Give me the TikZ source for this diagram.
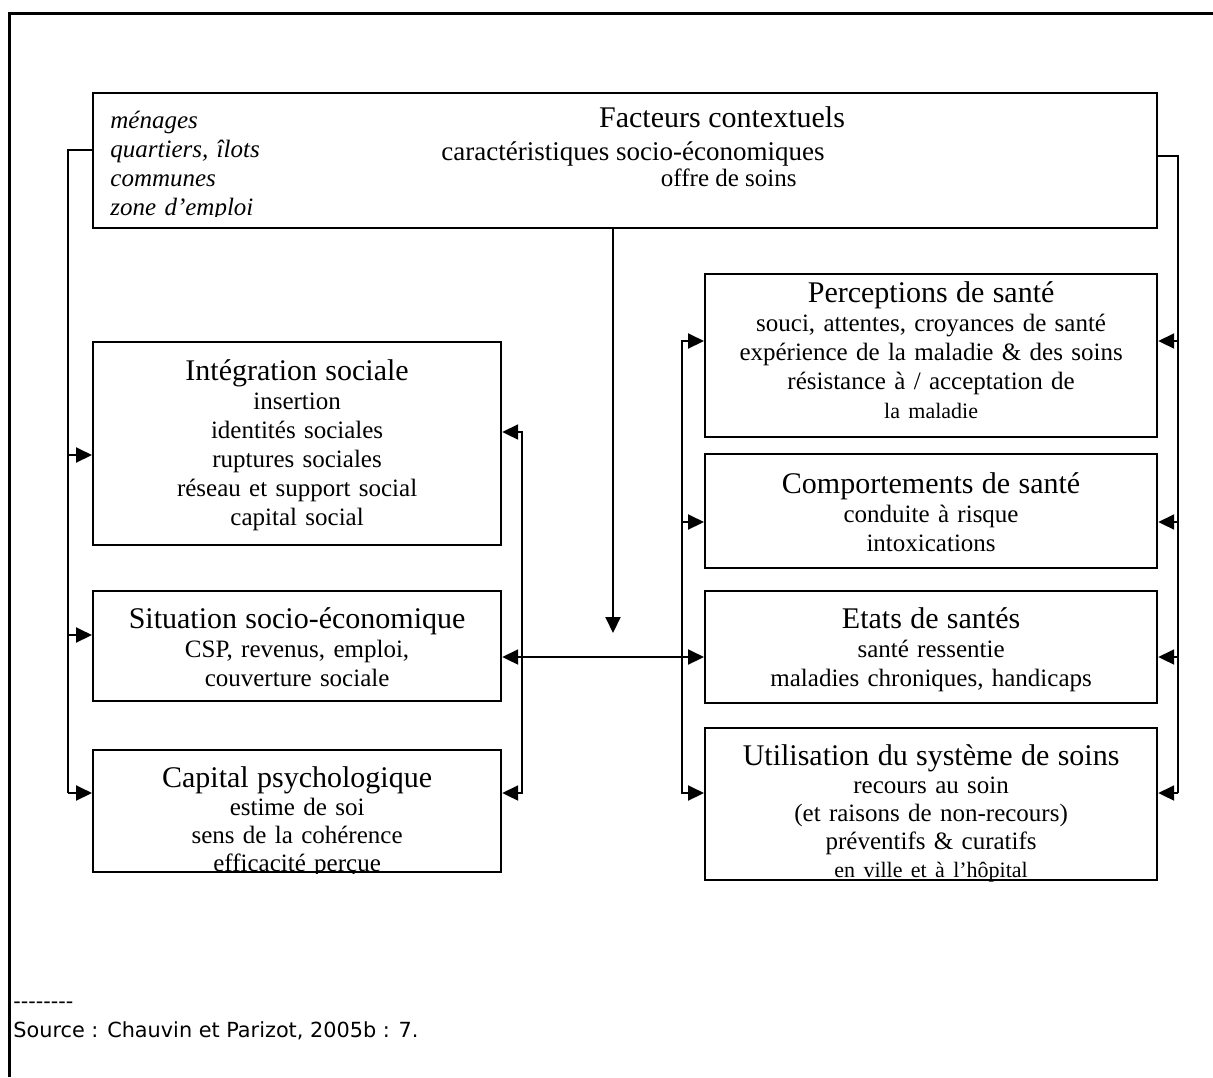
\documentclass[tikz,border=0pt]{standalone}
\usepackage{fontspec}
\setmainfont{Liberation Serif}
\newfontfamily\srcfont{DejaVu Sans}
\usetikzlibrary{arrows.meta, positioning}

\tikzset{
  box/.style={draw, line width=1.1pt, inner sep=0pt, anchor=north west},
  boxtext/.style={anchor=base, align=center, inner sep=0pt, font=\fontsize{12.5}{14.5}\selectfont},
  titletext/.style={anchor=base, inner sep=0pt, font=\fontsize{15}{14.5}\selectfont},
  subtext/.style={anchor=base, inner sep=0pt, font=\fontsize{12.5}{14.5}\selectfont},
  listtext/.style={anchor=base west, align=left, inner sep=0pt, text width=140pt, font=\fontsize{12.5}{14.5}\selectfont\itshape},
  srctext/.style={anchor=base west, inner sep=0pt, font=\srcfont\fontsize{10.4}{13}\selectfont},
  link/.style={line width=1pt},
  tip/.style={-{Triangle[length=8pt,width=7.5pt]}},
  tips/.style={{Triangle[length=8pt,width=7.5pt]}-{Triangle[length=8pt,width=7.5pt]}},
}
\newcommand{\boxtitle}[1]{{\fontsize{15}{14.5}\selectfont #1}}
\newcommand{\boxsmall}[1]{{\fontsize{11}{14.5}\selectfont #1}}

\begin{document}
\begin{tikzpicture}[x=0.5pt, y=-0.5pt]
  \useasboundingbox (0,0) rectangle (1213,1077);

  % Frame
  \draw[line width=1.5pt] (9,1077) -- (9,13) -- (1213,13);

  % Boxes
  \node[box, minimum width=532pt, minimum height=67.5pt] (ctx) at (92,92) {};
  \node[box, minimum width=204pt, minimum height=101.5pt] (integ) at (92,341) {};
  \node[box, minimum width=204pt, minimum height=55pt] (situ) at (92,590) {};
  \node[box, minimum width=204pt, minimum height=61pt] (psych) at (92,749) {};
  \node[box, minimum width=226pt, minimum height=81.5pt] (percep) at (704,273) {};
  \node[box, minimum width=226pt, minimum height=57pt] (comport) at (704,453) {};
  \node[box, minimum width=226pt, minimum height=56pt] (etats) at (704,590) {};
  \node[box, minimum width=226pt, minimum height=76pt] (util) at (704,727) {};

  % Contextual factors
  \node[titletext] (ctx-title) at (722,127) {Facteurs contextuels};
  \node[subtext, font=\fontsize{13.5}{14.5}\selectfont] (ctx-soc) at (633,160) {caractéristiques socio-économiques};
  \node[subtext, anchor=base east] (ctx-offre) at (797,186) {offre de soins};
  \begin{scope}
    \clip (ctx.north west) rectangle ([yshift=6.5pt]ctx.south east);
    \node[listtext] (ctx-list) at (110,128) {ménages\\quartiers, îlots\\communes\\zone d’emploi};
  \end{scope}

  % Left column
  \node[boxtext, text width=200pt] (integ-txt) at ([yshift=-19.5pt]integ.north)
    {\boxtitle{Intégration sociale}\\insertion\\identités sociales\\ruptures sociales\\réseau et support social\\capital social};
  \node[boxtext, text width=200pt] (situ-txt) at ([yshift=-19pt]situ.north)
    {\boxtitle{Situation socio-économique}\\CSP, revenus, emploi,\\couverture sociale};
  \begin{scope}
    \clip (psych.north west) rectangle (psych.south east);
    \node[boxtext, text width=200pt, font=\fontsize{12.5}{14}\selectfont] (psych-txt) at ([yshift=-19pt]psych.north)
      {\boxtitle{Capital psychologique}\\estime de soi\\sens de la cohérence\\efficacité perçue};
  \end{scope}

  % Right column
  \node[boxtext, text width=222pt] (percep-txt) at ([yshift=-14.5pt]percep.north)
    {\boxtitle{Perceptions de santé}\\souci, attentes, croyances de santé\\expérience de la maladie \& des soins\\résistance à / acceptation de\\\boxsmall{la maladie}};
  \node[boxtext, text width=222pt] (comport-txt) at ([yshift=-20pt]comport.north)
    {\boxtitle{Comportements de santé}\\conduite à risque\\intoxications};
  \node[boxtext, text width=222pt] (etats-txt) at ([yshift=-19pt]etats.north)
    {\boxtitle{Etats de santés}\\santé ressentie\\maladies chroniques, handicaps};
  \begin{scope}
    \clip (util.north west) rectangle (util.south east);
    \node[boxtext, text width=222pt, font=\fontsize{12.5}{14}\selectfont] (util-txt) at ([yshift=-19pt]util.north)
      {\boxtitle{Utilisation du système de soins}\\recours au soin\\(et raisons de non-recours)\\préventifs \& curatifs\\\boxsmall{en ville et à l’hôpital}};
  \end{scope}

  % Bus points
  \coordinate (lb0) at (68,150);
  \coordinate (lb1) at (68,455);
  \coordinate (lb2) at (68,635);
  \coordinate (lb3) at (68,793);
  \coordinate (rb0) at (1178,156);
  \coordinate (rb1) at (1178,341);
  \coordinate (rb2) at (1178,522);
  \coordinate (rb3) at (1178,657);
  \coordinate (rb4) at (1178,793);
  \coordinate (lc1) at (522,432);
  \coordinate (lc3) at (522,793);
  \coordinate (rc1) at (682,341);
  \coordinate (rc2) at (682,522);
  \coordinate (rc4) at (682,793);
  \coordinate (hz) at (600,657);
  \coordinate (dn) at (613,633);

  % Left outer bus
  \draw[link] (lb0 -| ctx.west) -- (lb0) -- (lb3);
  \draw[link, tip] (lb1) -- (lb1 -| integ.west);
  \draw[link, tip] (lb2) -- (lb2 -| situ.west);
  \draw[link, tip] (lb3) -- (lb3 -| psych.west);

  % Right outer bus
  \draw[link] (rb0 -| ctx.east) -- (rb0) -- (rb4);
  \draw[link, tip] (rb1) -- (rb1 -| percep.east);
  \draw[link, tip] (rb2) -- (rb2 -| comport.east);
  \draw[link, tip] (rb3) -- (rb3 -| etats.east);
  \draw[link, tip] (rb4) -- (rb4 -| util.east);

  % Inner buses
  \draw[link, tips] (lc1 -| integ.east) -- (lc1) -- (lc3) -- (lc3 -| psych.east);
  \draw[link, tips] (rc1 -| percep.west) -- (rc1) -- (rc4) -- (rc4 -| util.west);
  \draw[link, tip] (rc2) -- (rc2 -| comport.west);

  % Central links
  \draw[link, tip] (dn |- ctx.south) -- (dn);
  \draw[link, tips] (hz -| situ.east) -- (hz -| etats.west);

  % Source
  \node[srctext] (dashes) at (13,1008) {--------};
  \node[srctext] (source) at (13,1037) {Source : Chauvin et Parizot, 2005b : 7.};
\end{tikzpicture}
\end{document}
